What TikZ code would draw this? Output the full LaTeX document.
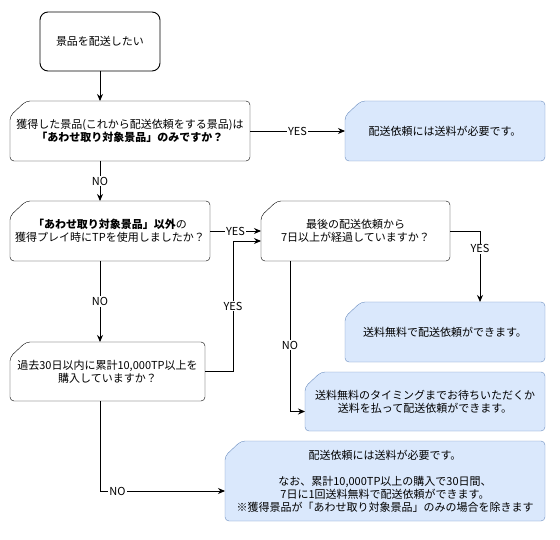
\documentclass[tikz,border=0pt]{standalone}
\usepackage{fontspec}
\setmainfont{Noto Sans CJK JP}
\usetikzlibrary{arrows.meta,backgrounds}

\definecolor{note_fill}{HTML}{DAE8FC}
\definecolor{note_line}{HTML}{6C8EBF}

\tikzset{
  box/.style={anchor=north west, align=center, font=\fontsize{11}{13}\selectfont},
  flow/.style={-{Stealth[length=7pt,width=6pt]}},
  lbl/.style={fill=white, inner sep=1pt, font=\fontsize{11}{12}\selectfont},
}

% card outline behind a node (cut top left corner)
\newcommand{\cardoutline}[2]{%
  \path[#2, rounded corners=4pt] ([xshift=16pt]#1.north west) -- (#1.north east)
    -- (#1.south east) -- (#1.south west) -- ([yshift=-15pt]#1.north west) -- cycle;}

\begin{document}
\begin{tikzpicture}[x=1pt, y=-1pt, inner sep=0pt, outer sep=0pt, line width=0.9pt]
    \useasboundingbox (0,0) rectangle (560,540);

    % start
    \node[box, draw, rounded corners=8pt, minimum width=120pt, minimum height=59pt] (start) at (40,12)
    {景品を配送したい};

    % questions
    \node[box, minimum width=240pt, minimum height=60pt] (q_only) at (10,101)
    {獲得した景品(これから配送依頼をする景品)は\\ \textbf{「あわせ取り対象景品」のみですか？}};
    \node[box, minimum width=200pt, minimum height=60pt] (q_tp) at (10,201)
    {\textbf{「あわせ取り対象景品」以外}の\\ 獲得プレイ時にTPを使用しましたか？};
    \node[box, minimum width=189pt, minimum height=60pt] (q_week) at (261,201)
    {最後の配送依頼から\\ 7日以上が経過していますか？};
    \node[box, minimum width=195pt, minimum height=59pt] (q_buy) at (10,342)
    {過去30日以内に累計10,000TP以上を\\ 購入していますか？};

    % answers
    \node[box, minimum width=200pt, minimum height=60pt] (a_fee) at (345,101)
    {配送依頼には送料が必要です。};
    \node[box, minimum width=200pt, minimum height=60pt] (a_free) at (345,302)
    {送料無料で配送依頼ができます。};
    \node[box, minimum width=240pt, minimum height=59pt] (a_wait) at (305,372)
    {送料無料のタイミングまでお待ちいただくか\\ 送料を払って配送依頼ができます。};
    \node[box, minimum width=320pt, minimum height=80pt] (a_fee_note) at (225,441)
    {配送依頼には送料が必要です。\\ \mbox{}\\ なお、累計10,000TP以上の購入で30日間、\\
     7日に1回送料無料で配送依頼ができます。\\ ※獲得景品が「あわせ取り対象景品」のみの場合を除きます};

    \begin{scope}[on background layer]
      \cardoutline{q_only}{draw, fill=white}
      \cardoutline{q_tp}{draw, fill=white}
      \cardoutline{q_week}{draw, fill=white}
      \cardoutline{q_buy}{draw, fill=white}
      \cardoutline{a_fee}{draw=note_line, fill=note_fill}
      \cardoutline{a_free}{draw=note_line, fill=note_fill}
      \cardoutline{a_wait}{draw=note_line, fill=note_fill}
      \cardoutline{a_fee_note}{draw=note_line, fill=note_fill}
    \end{scope}

    % connectors
    \draw[flow] (start.south) -- (start.south |- q_only.north);
    \draw[flow] (q_only.east) -- node[lbl] {YES} (a_fee.west);
    \draw[flow] (start.south |- q_only.south) -- node[lbl] {NO} (start.south |- q_tp.north);
    \draw[flow] (q_tp.east) -- node[lbl] {YES} (q_week.west);
    \draw[flow] (start.south |- q_tp.south) -- node[lbl] {NO} (start.south |- q_buy.north);
    \draw[flow] (q_buy.east) -- ++(28,0) |- node[lbl, pos=0.25] {YES} ([yshift=-10pt]q_week.west);
    \draw[flow] (q_week.east) -| node[lbl, pos=0.625] {YES} ([xshift=35pt]a_free.north);
    \draw[flow] ([xshift=29pt]q_week.south west) |- node[lbl, pos=0.28] {NO} ([yshift=-10pt]a_wait.west);
    \draw[flow] (start.south |- q_buy.south) |- node[lbl, pos=0.57] {NO} ([yshift=-10pt]a_fee_note.west);

\end{tikzpicture}
\end{document}
